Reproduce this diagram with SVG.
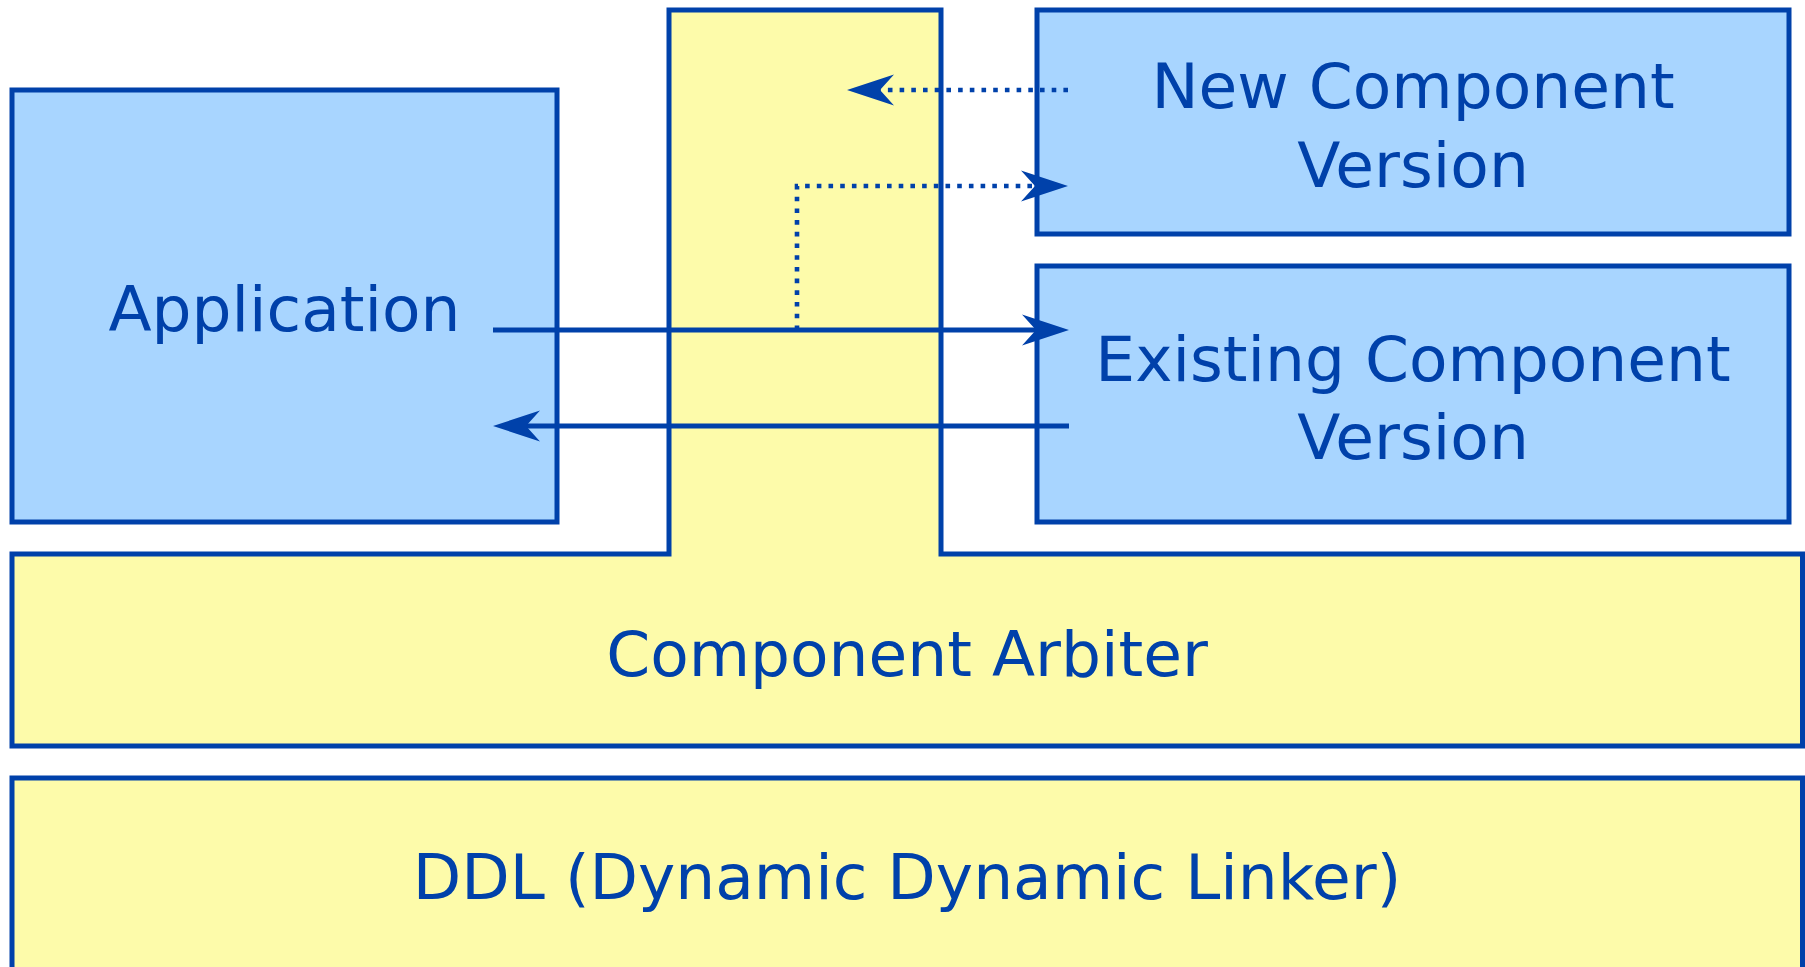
<svg xmlns="http://www.w3.org/2000/svg" width="1805" height="967" viewBox="0 0 1805 967">
  <style>
    .box { stroke: #0041AA; stroke-width: 5; }
    .blue { fill: #A8D5FF; }
    .yellow { fill: #FDFBAA; }
    .label { font-family: "DejaVu Sans", Verdana, sans-serif; font-size: 63px; fill: #0041AA; text-anchor: middle; }
    .solid { fill: none; stroke: #0041AA; stroke-width: 5; }
    .dotted { fill: none; stroke: #0041AA; stroke-width: 4.6; stroke-dasharray: 4.6 7.1; }
  </style>
  <defs>
    <!-- barbed arrowhead; tip sits 33px past the path end -->
    <marker id="arrow" markerUnits="userSpaceOnUse" viewBox="-15 -17 50 34" markerWidth="50" markerHeight="34" refX="0" refY="0" orient="auto" overflow="visible">
      <path d="M33,0 L-14,-15.5 L0,0 L-14,15.5 Z" fill="#0041AA"/>
    </marker>
  </defs>

  <rect width="1805" height="967" fill="#FFFFFF"/>

  <!-- DDL layer -->
  <g id="ddl">
    <rect class="box yellow" x="12" y="778" width="1790.5" height="210"/>
    <text class="label" x="907" y="899">DDL (Dynamic Dynamic Linker)</text>
  </g>

  <!-- Component Arbiter with its upright column -->
  <g id="arbiter">
    <path class="box yellow" d="M12,554 H669 V10 H941 V554 H1802.5 V746 H12 Z"/>
    <text class="label" x="907" y="676">Component Arbiter</text>
  </g>

  <g id="application">
    <rect class="box blue" x="12" y="90" width="545" height="432"/>
    <text class="label" x="284.5" y="331">Application</text>
  </g>

  <g id="new-component">
    <rect class="box blue" x="1037" y="10" width="752" height="224"/>
    <text class="label" x="1413" y="108">New Component</text>
    <text class="label" x="1413" y="187">Version</text>
  </g>

  <g id="existing-component">
    <rect class="box blue" x="1037" y="266" width="752" height="256"/>
    <text class="label" x="1413" y="381">Existing Component</text>
    <text class="label" x="1413" y="459">Version</text>
  </g>

  <g id="connectors">
    <path class="solid" d="M493,330 H1036" marker-end="url(#arrow)"/>
    <path class="solid" d="M1069,426 H526" marker-end="url(#arrow)"/>
    <path class="dotted" d="M1068,90 H880" marker-end="url(#arrow)"/>
    <path class="dotted" d="M797,330 V186 H1035" marker-end="url(#arrow)"/>
  </g>
</svg>
